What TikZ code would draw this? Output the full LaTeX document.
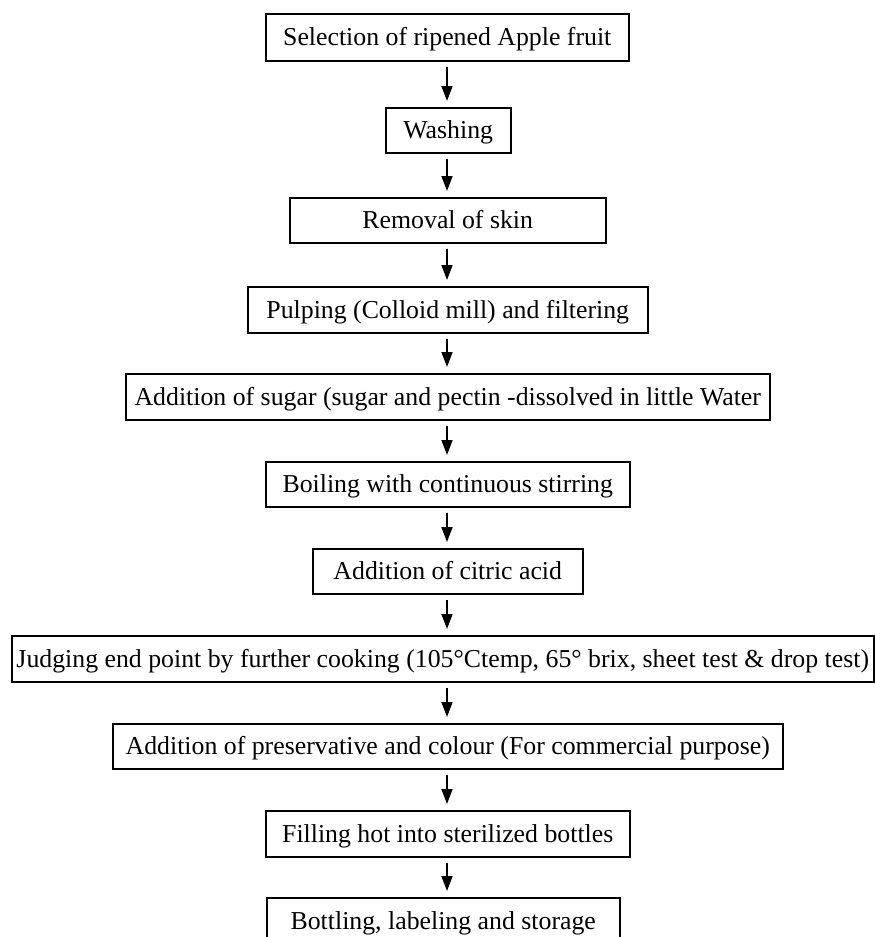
\documentclass[tikz,border=0pt]{standalone}
\usepackage{fontspec}
\setmainfont{Liberation Serif}
\usetikzlibrary{arrows.meta}
\begin{document}
\begin{tikzpicture}[x=1pt,y=-1pt,
  stepbox/.style={draw, line width=1.5pt, inner sep=0pt, font=\fontsize{25.8}{30}\selectfont, text height=17pt, text depth=0pt, anchor=north west},
  flow/.style={-{Triangle[length=15pt,width=11pt]}, line width=1.6pt, shorten <=5pt, shorten >=6pt}]
\useasboundingbox (0,0) rectangle (875,937);
\coordinate (ax) at (447,0);
\node[stepbox, minimum width=363pt, minimum height=47pt] (n1) at (265,13) {Selection of ripened Apple fruit};
\node[stepbox, minimum width=125pt, minimum height=45pt] (n2) at (385,107) {Washing};
\node[stepbox, minimum width=316pt, minimum height=45pt] (n3) at (289,197) {Removal of skin};
\node[stepbox, minimum width=400pt, minimum height=46pt] (n4) at (247,286) {Pulping (Colloid mill) and filtering};
\node[stepbox, minimum width=644pt, minimum height=46pt] (n5) at (125,373) {Addition of sugar (sugar and pectin -dissolved in little Water};
\node[stepbox, minimum width=364pt, minimum height=45pt] (n6) at (265,461) {Boiling with continuous stirring};
\node[stepbox, minimum width=270pt, minimum height=45pt] (n7) at (312,548) {Addition of citric acid};
\node[stepbox, minimum width=862pt, minimum height=46pt] (n8) at (11,635) {Judging end point by further cooking (105°Ctemp, 65° brix, sheet test \& drop test)};
\node[stepbox, minimum width=670pt, minimum height=45pt] (n9) at (112,723) {Addition of preservative and colour (For commercial purpose)};
\node[stepbox, minimum width=364pt, minimum height=46pt] (n10) at (265,810) {Filling hot into sterilized bottles};
\node[stepbox, minimum width=353pt, minimum height=46pt] (n11) at (266,897) {Bottling, labeling and storage};
\foreach \a/\b in {n1/n2,n2/n3,n3/n4,n4/n5,n5/n6,n6/n7,n7/n8,n8/n9,n9/n10,n10/n11}
  \draw[flow] (\a.south -| ax) -- (\b.north -| ax);
\end{tikzpicture}
\end{document}
